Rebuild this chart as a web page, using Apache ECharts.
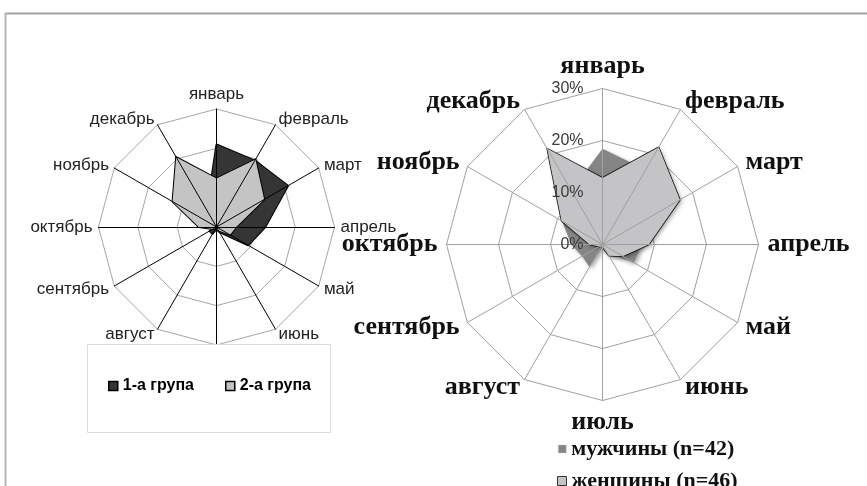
<!DOCTYPE html>
<html>
<head>
<meta charset="utf-8">
<script src="https://cdn.jsdelivr.net/npm/echarts@6/dist/echarts.min.js"></script>
<style>
html,body{margin:0;padding:0;background:#fff;}
#c{width:867px;height:486px;}
</style>
</head>
<body>
<div id="c"></div>
<script>
// ---- data ----
const months = ['январь','февраль','март','апрель','май','июнь','июль','август','сентябрь','октябрь','ноябрь','декабрь'];
const group1 = [21, 19.5, 21, 12.4, 9.3, 1.5, 0.5, 2, 2, 0.5, 3, 5];      // 1-а група
const group2 = [12.3, 19.8, 14, 5, 4, 1, 0.5, 0.5, 1, 4.5, 12.9, 20.5];   // 2-а група
const men    = [18.4, 16.6, 12, 7.5, 7, 2, 0.5, 5, 4.5, 6, 9, 12];        // мужчины (n=42)
const women  = [12.8, 21.6, 17.2, 8.9, 4.5, 2.5, 0.5, 0.5, 0.8, 2.5, 9.1, 21.3]; // женщины (n=46)
const tickLabels = ['0%','10%','20%','30%'];
const seriesNames = ['1-а група','2-а група','мужчины (n=42)','женщины (n=46)'];
const axisMax = 30;

// ECharts lays radar indicators counter-clockwise; reorder to get clockwise months
const order = [0].concat(months.slice(1).map((m, i) => months.length - 1 - i));
const reorder = arr => order.map(i => arr[i]);

const plainIndicators = order.map(i => ({ name: months[i], max: axisMax, min: 0 }));
const labelIndicators = order.map((i, k) => {
  const o = { name: months[i], max: axisMax, min: 0 };
  if (k === 0) o.axisLabel = {
    show: true, margin: 19, color: '#3a3a3a', fontSize: 16,
    fontFamily: 'Liberation Sans', formatter: v => tickLabels[Math.round(v / 10)]
  };
  return o;
});

const L = { center: [216.5, 227], radius: 118 };
const R = { center: [602.5, 244.5], radius: 156 };

// grid (rings) below the series
function ringRadar(geo, color) {
  return {
    center: geo.center, radius: geo.radius, splitNumber: 3, shape: 'polygon', startAngle: 90, z: 0,
    indicator: plainIndicators,
    axisName: { show: false },
    axisLine: { show: false },
    splitLine: { lineStyle: { color: color, width: 1 } },
    splitArea: { show: false },
    axisLabel: { show: false }
  };
}
// spokes, names and tick labels above the series
function spokeRadar(geo, indicators, color, nameStyle, gap) {
  return {
    center: geo.center, radius: geo.radius, splitNumber: 3, shape: 'polygon', startAngle: 90, z: 5,
    indicator: indicators,
    axisName: nameStyle,
    nameGap: gap,
    axisLine: { lineStyle: { color: color, width: 1 } },
    splitLine: { show: false },
    splitArea: { show: false },
    axisLabel: { show: false }
  };
}

const chart = echarts.init(document.getElementById('c'), null, { renderer: 'canvas' });
chart.setOption({
  backgroundColor: '#fff',
  animation: false,
  radar: [
    ringRadar(L, '#a6a6a6'),
    spokeRadar(L, plainIndicators, '#000', { color: '#222', fontSize: 17, fontFamily: 'Liberation Sans' }, 6),
    ringRadar(R, '#a0a0a0'),
    spokeRadar(R, labelIndicators, '#a0a0a0', { color: '#111', fontSize: 26, fontWeight: 'bold', fontFamily: 'Liberation Serif' }, 9)
  ],
  legend: [
    {
      data: [
        { name: seriesNames[0], itemStyle: { color: '#353535', borderColor: '#000', borderWidth: 1.5 } },
        { name: seriesNames[1], itemStyle: { color: '#c4c4c4', borderColor: '#000', borderWidth: 1.5 } }
      ],
      left: 103, top: 373, orient: 'horizontal', icon: 'rect', itemWidth: 9, itemHeight: 9, itemGap: 31,
      textStyle: { fontSize: 16, fontWeight: 'bold', fontFamily: 'Liberation Sans', color: '#000' },
      z: 20, selectedMode: false
    },
    {
      data: [{ name: seriesNames[2], itemStyle: { color: '#858585', borderColor: '#c8c8c8', borderWidth: 0.5 } }],
      left: 553, top: 433, icon: 'rect', itemWidth: 8, itemHeight: 8,
      textStyle: { fontSize: 22, fontWeight: 'bold', fontFamily: 'Liberation Serif', color: '#111' },
      z: 20, selectedMode: false
    },
    {
      data: [{ name: seriesNames[3], itemStyle: { color: '#c4c4c6', borderColor: '#333', borderWidth: 1 } }],
      left: 552, top: 465, icon: 'rect', itemWidth: 9, itemHeight: 9,
      textStyle: { fontSize: 22, fontWeight: 'bold', fontFamily: 'Liberation Serif', color: '#111' },
      z: 20, selectedMode: false
    }
  ],
  graphic: {
    elements: [
      { type: 'rect', z: 10, shape: { x: 87.5, y: 344.5, width: 243, height: 88 },
        style: { fill: '#fff', stroke: '#dcdcdc', lineWidth: 1 } },
      { type: 'line', z: 10, shape: { x1: 5, y1: 13.5, x2: 867, y2: 13.5 },
        style: { stroke: '#a3a3a3', lineWidth: 2 } },
      { type: 'line', z: 10, shape: { x1: 5.5, y1: 13, x2: 5.5, y2: 486 },
        style: { stroke: '#b3b3b3', lineWidth: 2 } }
    ]
  },
  series: [
    {
      type: 'radar', radarIndex: 0, symbol: 'none', z: 2,
      data: [
        { name: seriesNames[0], value: reorder(group1),
          itemStyle: { color: '#353535' },
          lineStyle: { color: '#000', width: 2 },
          areaStyle: { color: '#353535', opacity: 1 } },
        { name: seriesNames[1], value: reorder(group2),
          itemStyle: { color: '#c4c4c4' },
          lineStyle: { color: '#000', width: 2 },
          areaStyle: { color: '#c4c4c4', opacity: 1 } }
      ]
    },
    {
      type: 'radar', radarIndex: 2, symbol: 'none', z: 2,
      data: [
        { name: seriesNames[2], value: reorder(men),
          itemStyle: { color: '#858585' },
          lineStyle: { color: '#fff', width: 1.5 },
          areaStyle: { color: '#858585', opacity: 1, shadowColor: 'rgba(0,0,0,0.35)', shadowBlur: 4, shadowOffsetX: 2, shadowOffsetY: 2 } },
        { name: seriesNames[3], value: reorder(women),
          itemStyle: { color: '#c4c4c6' },
          lineStyle: { color: '#111', width: 1.5 },
          areaStyle: { color: '#c4c4c6', opacity: 1, shadowColor: 'rgba(0,0,0,0.35)', shadowBlur: 4, shadowOffsetX: 2, shadowOffsetY: 2 } }
      ]
    }
  ]
});
</script>
</body>
</html>
